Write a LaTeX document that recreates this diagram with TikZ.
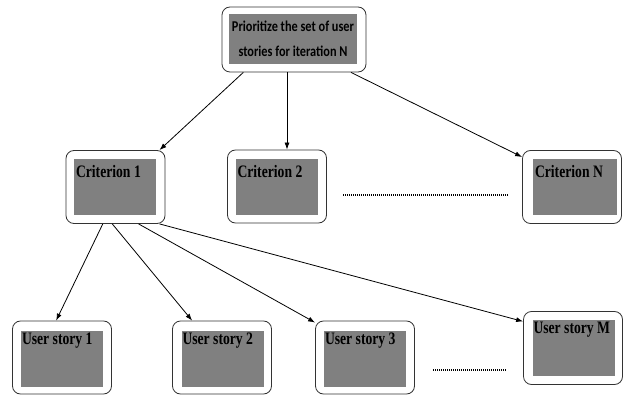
\documentclass[tikz,border=0pt]{standalone}
\usepackage{fontspec}
\newfontfamily\storyfont[FakeStretch=0.78]{Liberation Serif}
\newfontfamily\prioritizefont[FakeStretch=0.82]{Carlito}
\usetikzlibrary{arrows.meta}
\tikzset{%
  >={Latex[width=5pt,length=7pt]},
  % Specifications for style of nodes:
   outerBox/.style = {rectangle, rounded corners=8pt, draw=black!80,
                      fill=white, minimum width=99pt, minimum height=73pt},
    grayBox/.style = {rectangle, fill=gray, inner sep=0pt,
                      minimum width=82pt, minimum height=56pt},
   topOuter/.style = {outerBox, minimum width=144pt, minimum height=65pt},
    topGray/.style = {grayBox, minimum width=128pt, minimum height=50pt,
                      align=center,
                      font=\prioritizefont\bfseries\fontsize{15}{25}\selectfont},
   boxLabel/.style = {anchor=north west, inner sep=0pt,
                      font=\storyfont\bfseries\fontsize{17.5}{20}\selectfont},
   dotLine/.style  = {dash pattern=on 1pt off 1pt, line width=1.1pt},
}

\begin{document}
\begin{tikzpicture}[x=1pt, y=-1pt, line width=0.8pt]
  \useasboundingbox (0,0) rectangle (623,395);
  % Specification of nodes (position, etc.)
  \node (prioritize)   [topOuter] at (294,39.5) {};
  \node (prioritizeIn) [topGray]  at (293,39)   {Prioritize the set of user\\stories for iteration N};

  \node (criterion1)   [outerBox] at (115.5,187) {};
  \node (criterion1In) [grayBox]  at (115,187)   {};
  \node [boxLabel, xshift=2pt, yshift=-6pt] at (criterion1In.north west) {Criterion 1};

  \node (criterion2)   [outerBox] at (277,186.5) {};
  \node (criterion2In) [grayBox]  at (276.5,187) {};
  \node [boxLabel, xshift=2pt, yshift=-6pt] at (criterion2In.north west) {Criterion 2};

  \node (criterionN)   [outerBox] at (572,187) {};
  \node (criterionNIn) [grayBox, minimum width=84pt] at (575,187) {};
  \node [boxLabel, xshift=2pt, yshift=-6pt] at (criterionNIn.north west) {Criterion N};

  \node (story1)   [outerBox] at (62,357.5)  {};
  \node (story1In) [grayBox]  at (62,358.5)  {};
  \node [boxLabel, xshift=1pt, yshift=-2pt] at (story1In.north west) {User story 1};

  \node (story2)   [outerBox] at (222,357.5) {};
  \node (story2In) [grayBox]  at (222.5,358.5) {};
  \node [boxLabel, xshift=1pt, yshift=-2pt] at (story2In.north west) {User story 2};

  \node (story3)   [outerBox] at (365,357.5) {};
  \node (story3In) [grayBox]  at (365,358.5) {};
  \node [boxLabel, xshift=1pt, yshift=-2pt] at (story3In.north west) {User story 3};

  \node (storyM)   [outerBox] at (573,348)   {};
  \node (storyMIn) [grayBox]  at (573.5,348) {};
  \node [boxLabel, xshift=1pt, yshift=-2pt] at (storyMIn.north west) {User story M};

  % Specification of lines between nodes specified above
  \draw[->] (prioritize.213) -- (criterion1.40);
  \draw[->] (prioritize.258) -- (prioritize.258 |- criterion2.north);
  \draw[->] (prioritize.330) -- (criterionN.149);
  \draw[->] (criterion1.251) -- (story1.99);
  \draw[->] (criterion1.265) -- (story2.129);
  \draw[->] (criterion1.302) -- (story3.145);
  \draw[->] (criterion1.320) -- (storyM.152);

  % dots between the boxes
  \draw[dotLine] (343,195) -- (508,195);
  \draw[dotLine] (433,370) -- (507,370);
\end{tikzpicture}
\end{document}
